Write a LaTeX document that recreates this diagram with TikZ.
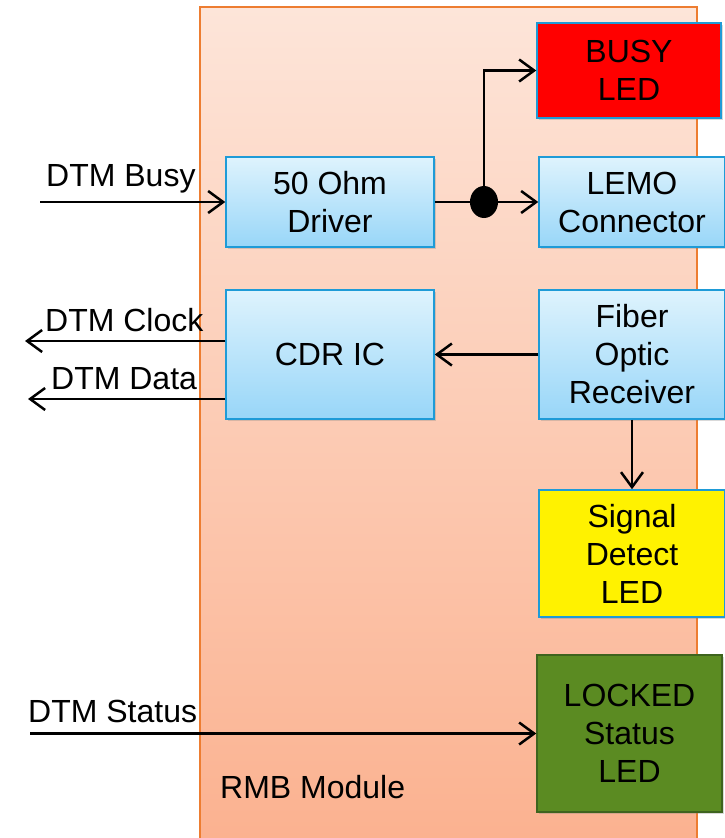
\documentclass[tikz,border=0pt]{standalone}
\usepackage{fontspec}
\setmainfont{Liberation Sans}
\usetikzlibrary{arrows.meta,shapes.geometric,shadows}
\definecolor{modtop}{RGB}{253,229,217}
\definecolor{modbot}{RGB}{251,177,143}
\definecolor{modline}{RGB}{237,125,49}
\definecolor{blktop}{RGB}{222,243,253}
\definecolor{blkbot}{RGB}{152,214,248}
\definecolor{blkline}{RGB}{30,155,215}
\definecolor{ledgreen}{RGB}{91,139,34}
\definecolor{ledgreenline}{RGB}{62,100,30}
\tikzset{
 box/.style={draw=blkline,line width=1.5pt,inner sep=0pt,align=center,
  drop shadow={opacity=0.3,shadow xshift=2pt,shadow yshift=-2pt}},
 blk/.style={box,top color=blktop,bottom color=blkbot},
 led/.style={box,fill=#1},
 lbl/.style={anchor=base west,inner sep=0pt},
 wire/.style={line width=2.5pt,>={Straight Barb[length=15pt,width=22pt]}},
}
\begin{document}
\begin{tikzpicture}[x=1pt,y=-1pt,font=\fontsize{32}{38}\selectfont]
\useasboundingbox (0,0) rectangle (724,838);
% module
\draw[modline,line width=1.5pt,top color=modtop,bottom color=modbot] (200,7) rectangle (697,850);
\node[lbl] (rmb) at (220,798) {RMB Module};
% blocks
\node[led=red,minimum width=184,minimum height=95] (busy) at (629,70.5) {BUSY\\LED};
\node[blk,minimum width=208,minimum height=90] (drv) at (330,202) {50 Ohm\\Driver};
\node[blk,minimum width=186,minimum height=90] (lemo) at (632,202) {LEMO\\Connector};
\node[blk,minimum width=208,minimum height=129] (cdr) at (330,354.5) {CDR IC};
\node[blk,minimum width=186,minimum height=129] (fib) at (632,354.5) {Fiber\\Optic\\Receiver};
\node[led=yellow,minimum width=186,minimum height=127] (sig) at (632,553.5) {Signal\\Detect\\LED};
\node[led=ledgreen,draw=ledgreenline,minimum width=185,minimum height=157] (lock) at (629.5,733.5) {LOCKED\\Status\\LED};
\node[ellipse,fill=black,inner sep=0pt,minimum width=28,minimum height=32] (jct) at (484,202) {};
% signal labels
\node[lbl] (busylbl) at (46,186) {DTM Busy};
\node[lbl] (clklbl) at (45,331) {DTM Clock};
\node[lbl] (datlbl) at (51,389) {DTM Data};
\node[lbl] (statlbl) at (28,722) {DTM Status};
\coordinate (busyin) at (40,202);
\coordinate (clkout) at (25,341);
\coordinate (datout) at (28,399);
\coordinate (statin) at (30,733.5);
% connectors
\draw[wire,->] (busyin) -- (drv.west);
\draw[wire] (drv.east) -- (jct);
\draw[wire,->] (jct) -- (lemo.west);
\draw[wire,->] (jct.center) |- (busy.west);
\draw[wire,->] (fib.west) -- (cdr.east);
\draw[wire,->] (clkout -| cdr.west) -- (clkout);
\draw[wire,->] (datout -| cdr.west) -- (datout);
\draw[wire,->] (fib.south) -- (sig.north);
\draw[wire,->] (statin) -- (lock.west);
\end{tikzpicture}
\end{document}
